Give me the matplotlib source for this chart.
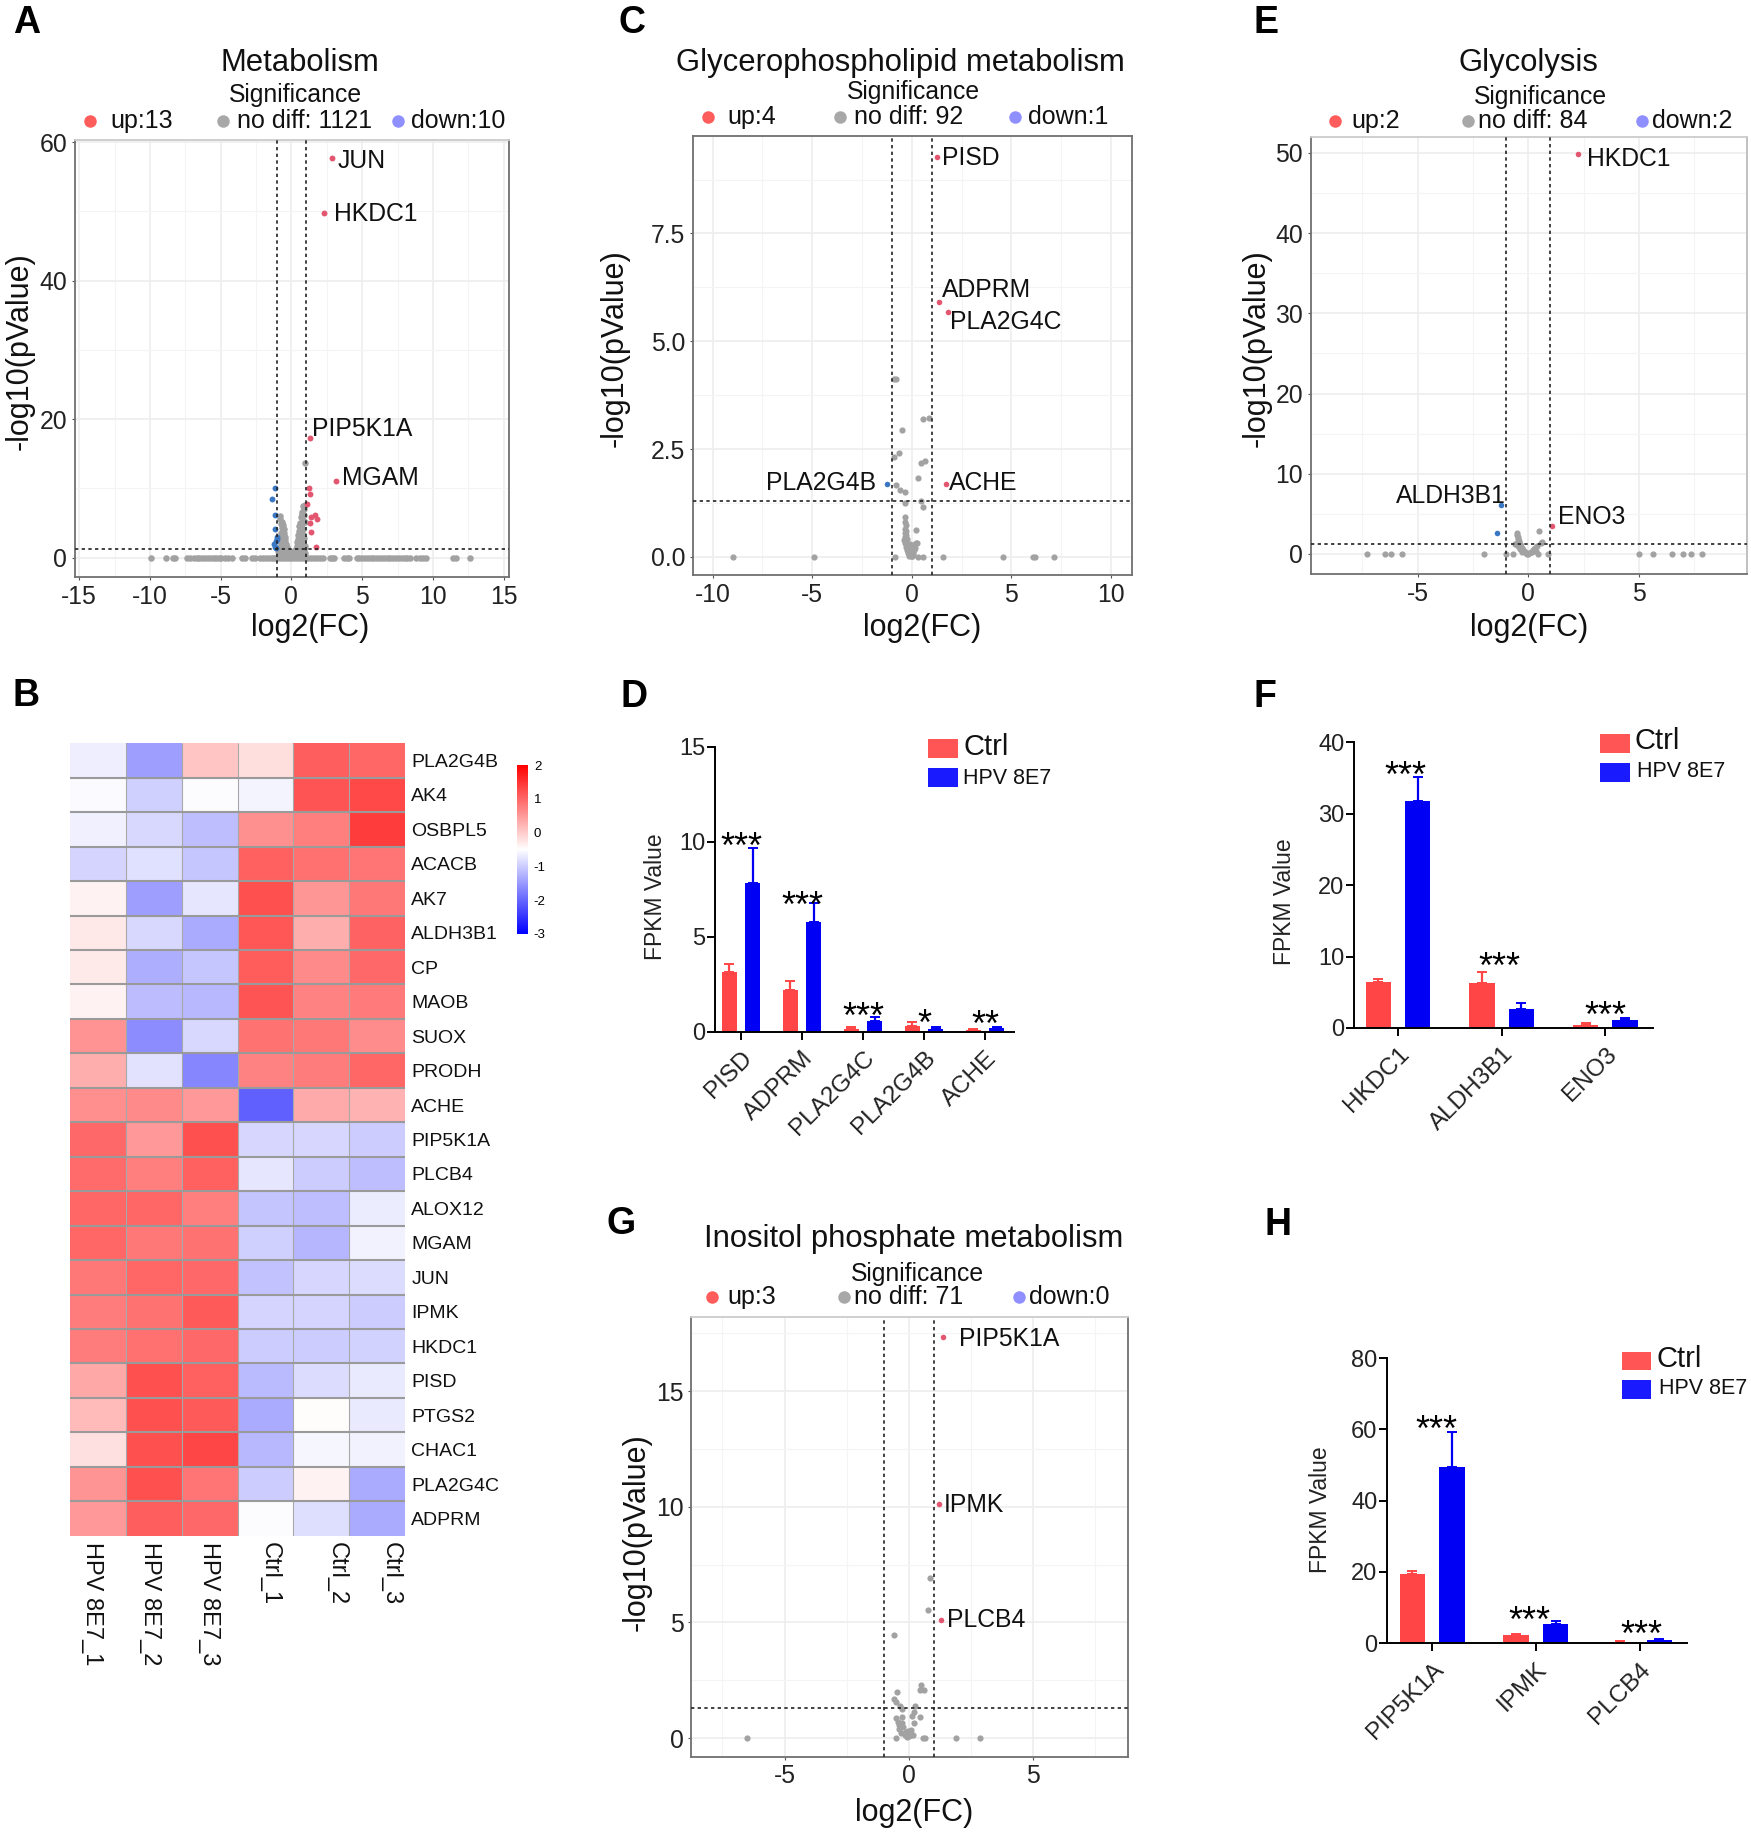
import matplotlib
matplotlib.use("Agg")
import matplotlib.pyplot as plt
import numpy as np
from matplotlib.colors import LinearSegmentedColormap
from matplotlib.lines import Line2D
from matplotlib.patches import Rectangle

W, H = 1751, 1832
plt.rcParams['font.family'] = ['Liberation Sans', 'DejaVu Sans']
plt.rcParams['axes.unicode_minus'] = False

# volcano data, panel A
a_up_x = [2.88, 2.27, 1.34, 3.16, 1.21, 1.31, 1.09, 1.64, 1.36, 1.82, 1.29, 1.41, 1.74]
a_up_y = [57.7, 49.8, 17.3, 11.1, 10.0, 9.2, 7.7, 6.1, 5.9, 5.6, 5.0, 3.65, 1.56]
a_down_x = [-1.19, -1.39, -1.19, -1.14, -1.04, -1.11, -1.21, -1.03, -1.16, -1.09]
a_down_y = [10.0, 8.5, 6.1, 4.1, 2.7, 2.4, 2.0, 3.0, 1.6, 1.4]
a_gray = [(0.98, 13.7),
    (-.83, 6.0), (-.78, 5.6), (-.66, 5.2), (-.72, 4.9), (-.6, 4.7), (-.68, 4.3), (-.55, 4.2), (-.62, 3.9),
    (-.72, 3.6), (-.5, 3.6), (-.58, 3.3), (-.68, 3.1), (-.47, 3.0), (-.55, 2.8), (-.65, 2.6), (-.8, 2.5),
    (-.42, 2.5), (-.52, 2.3), (-.62, 2.1), (-.75, 2.0), (-.38, 2.0), (-.47, 1.8), (-.58, 1.7), (-.7, 1.5),
    (-.85, 1.4), (-.33, 1.5), (-.42, 1.3), (-.52, 1.2), (-.64, 1.1), (-.78, 1.0), (-.92, .9), (-.28, 1.0),
    (-.37, .9), (-.47, .8), (-.58, .7), (-.7, .6), (-.84, .5), (-.2, .6), (-.3, .5), (-.4, .4), (-.52, .35),
    (-.65, .3), (-.8, .25), (-.95, .3),
    (.98, 7.6), (.81, 7.5), (.88, 7.0), (.76, 6.6), (.73, 6.3), (.92, 6.1), (.68, 5.8), (.81, 5.4), (.95, 5.2),
    (.62, 5.0), (.74, 4.8), (.56, 4.5), (.68, 4.3), (.84, 4.1), (.52, 3.9), (.63, 3.7), (.78, 3.5), (.48, 3.3),
    (.58, 3.1), (.72, 3.0), (.9, 2.9), (.44, 2.7), (.55, 2.5), (.68, 2.4), (.84, 2.3), (.4, 2.2), (.5, 2.0),
    (.62, 1.9), (.78, 1.8), (.95, 1.7), (.36, 1.7), (.46, 1.5), (.58, 1.4), (.72, 1.3), (.88, 1.2), (.32, 1.2),
    (.42, 1.0), (.54, .9), (.68, .8), (.82, .7), (.97, .6), (.24, .7), (.34, .55), (.46, .45), (.6, .35),
    (.75, .3), (.9, .25),
    (-.15, .3), (-.1, .15), (-.05, .1), (0, .05), (.05, .1), (.1, .15), (.15, .3),
    (-.25, 1.1), (-.15, .9), (-.05, .8), (.05, .8), (.15, .9), (.25, 1.1), (-.1, .5), (0, .4), (.1, .5)]
a_base_x = [-9.9, -8.9, -8.4, -8.2, -7.4, -7.2, -6.9, -6.7, -6.5, -6.3, -6.1, -5.9, -5.7, -5.5, -5.3, -5.1, -5.0,
    -4.7, -4.5, -4.2, -3.5, -3.3, -2.8, -2.6, -2.2, -2.0, -1.8, -1.6, -1.4, -1.2, -1.0, -.8, -.6, -.4, -.2, 0,
    .2, .4, .6, .8, 1.0, 1.2, 1.4, 1.6, 1.8, 2.0, 2.2, 2.7, 2.9, 3.0, 3.7, 3.9, 4.1, 4.6, 4.8, 5.0, 5.2, 5.4, 5.6,
    5.8, 6.0, 6.2, 6.4, 6.6, 6.8, 7.0, 7.2, 7.4, 7.6, 7.8, 8.0, 8.2, 8.4, 8.8, 9.1, 9.3, 9.5, 11.4, 11.6, 12.6]

# panel C
c_up_x = [1.29, 1.38, 1.83, 1.74]
c_up_y = [9.28, 5.92, 5.69, 1.68]
c_down_x = [-1.22]
c_down_y = [1.69]
c_gray = [(-.91, 4.12), (-.77, 4.12), (.88, 3.23), (.57, 3.19), (-.48, 2.94), (-.65, 2.4), (-.88, 2.32), (.68, 2.23),
    (.45, 2.17), (.29, 1.83), (-.81, 1.66), (-.59, 1.55), (-.34, 1.5), (-.36, 1.24), (.48, 1.29), (.56, 1.15),
    (-.34, .92), (.23, .63), (-.33, .8), (-.3, .75), (-.35, .65), (-.3, .6), (-.36, .55), (-.28, .5), (-.33, .45),
    (-.38, .4), (-.25, .42), (-.3, .35), (-.24, .3), (-.35, .32), (-.2, .28), (-.27, .22), (-.17, .2), (-.22, .15),
    (-.14, .13), (-.18, .08), (-.1, .06), (-.12, .02), (-.05, .02), (0, .01), (.03, .03), (.08, .1), (.12, .15),
    (.18, .2), (.1, .25), (.15, .3), (.22, .33), (.28, .33), (.05, .05), (.02, .15), (-.03, .1), (-.06, .2),
    (-.1, .3), (.03, .25)]
c_base_x = [-8.97, -4.9, -.86, .3, .57, 1.56, 4.57, 6.08, 6.19, 7.12]

# panel E
e_up_x = [2.24, 1.08]
e_up_y = [49.8, 3.53]
e_down_x = [-1.24, -1.41]
e_down_y = [6.08, 2.55]
e_gray = [(.49, 2.86), (-.51, 2.6), (-.5, 2.4), (-.47, 2.1), (-.45, 1.9), (-.42, 1.6), (-.48, 1.5), (-.4, 1.3),
    (-.38, 1.1), (-.45, 1.0), (-.33, .9), (-.3, .7), (-.36, .6), (-.25, .5), (-.2, .4), (-.28, .3), (-.15, .2),
    (-.1, .15), (-.05, .05), (0, .02), (.05, .1), (.1, .2), (.15, .3), (.2, .5), (.25, .6), (.3, .8), (.4, 1.0),
    (.55, 1.4), (.6, 1.5), (.33, .4), (.45, .05), (-.6, 1.2), (-.55, 1.25)]
e_base_x = [-7.3, -6.49, -6.19, -5.73, -2.02, -1.03, -.71, .9, 5.02, 5.63, 6.48, 7.0, 7.35, 7.87]

# panel G
g_up_x = [1.36, 1.21, 1.31]
g_up_y = [17.34, 10.12, 5.09]
g_down_x = []
g_down_y = []
g_gray = [(.86, 6.92), (.76, 5.55), (-.59, 4.47), (.5, 2.3), (.46, 2.06), (.62, 2.06), (-.49, 2.0), (-.59, 1.69),
    (-.5, 1.55), (-.36, 1.4), (-.29, 1.27), (.26, 1.4), (.22, 1.13), (.14, .96), (.46, .92), (-.5, .87), (-.29, .9),
    (-.42, .7), (-.29, .65), (.19, .66), (-.39, .38), (-.22, .49), (-.1, .26), (.1, .35), (0, .09), (-.07, .04),
    (.07, .12), (-.4, .55), (-.33, .2), (-.15, .15), (.05, .2), (.15, .15), (-.05, .3)]
g_base_x = [-6.5, -.53, .57, .65, 1.9, 2.87]

# heatmap
genes = ["PLA2G4B", "AK4", "OSBPL5", "ACACB", "AK7", "ALDH3B1", "CP", "MAOB", "SUOX", "PRODH", "ACHE", "PIP5K1A",
         "PLCB4", "ALOX12", "MGAM", "JUN", "IPMK", "HKDC1", "PISD", "PTGS2", "CHAC1", "PLA2G4C", "ADPRM"]
samples = ["HPV 8E7_1", "HPV 8E7_2", "HPV 8E7_3", "Ctrl_1", "Ctrl_2", "Ctrl_3"]
heat = [
    [-.67, -1.45, .07, -.17, 1.07, 1.0],
    [-.55, -.95, -.53, -.6, 1.17, 1.28],
    [-.65, -.88, -1.13, .58, .75, 1.4],
    [-.92, -.8, -1.05, 1.05, .9, .85],
    [-.38, -1.45, -.75, 1.2, .53, .82],
    [-.27, -.88, -1.33, 1.15, .3, 1.03],
    [-.3, -1.3, -1.05, 1.1, .65, .97],
    [-.38, -1.15, -1.2, 1.17, .72, .8],
    [.57, -1.62, -.88, .88, .82, .62],
    [.3, -.78, -1.68, .72, .78, 1.0],
    [.6, .65, .5, -2.05, .33, .25],
    [.97, .5, 1.2, -.9, -.9, -1.0],
    [.95, .75, 1.05, -.75, -1.0, -1.13],
    [1.0, 1.0, .75, -1.08, -1.13, -.68],
    [1.0, .82, .88, -.95, -1.22, -.62],
    [.82, 1.0, .98, -1.1, -.9, -.84],
    [.78, .88, 1.12, -.92, -.92, -1.0],
    [.78, .9, .98, -1.0, -1.0, -.93],
    [.35, 1.2, 1.05, -1.17, -.84, -.7],
    [.17, 1.2, 1.12, -1.33, -.48, -.7],
    [-.2, 1.2, 1.3, -1.2, -.58, -.63],
    [.55, 1.2, .85, -1.0, -.38, -1.33],
    [.5, 1.07, .97, -.52, -.83, -1.33]]

# bar panels
d_genes = ["PISD", "ADPRM", "PLA2G4C", "PLA2G4B", "ACHE"]
d_ctrl = [3.16, 2.2, .14, .3, .09]
d_ctrl_top = [3.54, 2.68, .23, .49, .12]
d_hpv = [7.84, 5.79, .58, .14, .21]
d_hpv_top = [9.68, 6.8, .79, .23, .26]
d_stars = ["***", "***", "***", "*", "**"]
d_star_y = [10.2, 7.1, 1.26, .9, .82]

f_genes = ["HKDC1", "ALDH3B1", "ENO3"]
f_ctrl = [6.49, 6.26, .47]
f_ctrl_top = [6.82, 7.84, .75]
f_hpv = [31.75, 2.66, 1.17]
f_hpv_top = [35.1, 3.55, 1.45]
f_stars = ["***", "***", "***"]
f_star_y = [36.6, 9.76, 2.99]

h_genes = ["PIP5K1A", "IPMK", "PLCB4"]
h_ctrl = [19.4, 2.25, .37]
h_ctrl_top = [20.3, 2.5, .65]
h_hpv = [49.5, 5.24, .84]
h_hpv_top = [59.2, 6.17, 1.1]
h_stars = ["***", "***", "***"]
h_star_y = [62.3, 8.8, 4.9]

RED = "#ff4545"
BLUE = "#0000f5"
UP = "#e2566f"
DOWN = "#3a78c4"
GRAY = "#a2a2a2"

fig = plt.figure(figsize=(W / 100, H / 100), dpi=100)


def ax_px(l, t, r, b):
    return fig.add_axes([l / W, 1 - b / H, (r - l) / W, (b - t) / H])


def txt(x, y, s, **kw):
    kw.setdefault("ha", "left")
    kw.setdefault("va", "center")
    return fig.text(x / W, 1 - y / H, s, **kw)


def dot(x, y, color):
    fig.add_artist(Line2D([x / W], [1 - y / H], transform=fig.transFigure, marker="o", ms=9, mew=0,
                          color=color, ls=""))


def box(l, t, r, b, color):
    fig.add_artist(Rectangle((l / W, 1 - b / H), (r - l) / W, (b - t) / H, transform=fig.transFigure,
                             color=color, lw=0))


def volcano(rect, xlim, ylim, xticks, yticks, xminor, yminor, up, down, gray, base, labels, ylabels=None, size=20):
    ax = ax_px(*rect)
    ax.set_xlim(*xlim)
    ax.set_ylim(*ylim)
    ax.set_xticks(xticks)
    ax.set_yticks(yticks)
    if ylabels:
        ax.set_yticklabels(ylabels)
    ax.set_xticks(xminor, minor=True)
    ax.set_yticks(yminor, minor=True)
    ax.grid(True, which="major", color="#eeeeee", lw=1.2)
    ax.grid(True, which="minor", color="#f4f4f4", lw=0.8)
    ax.set_axisbelow(True)
    ax.tick_params(which="minor", length=0)
    ax.tick_params(which="major", labelsize=17.8, length=2.5, width=0.8, color="#555555", pad=3,
                   labelcolor="#222222")
    for s in ax.spines.values():
        s.set_color("#707070")
        s.set_linewidth(1.3)

    ax.scatter([p[0] for p in gray], [p[1] for p in gray], s=size, color=GRAY, lw=0, zorder=2)
    ax.scatter(base, [0] * len(base), s=size, color=GRAY, lw=0, zorder=2)
    ax.scatter(up[0], up[1], s=size - 4, color=UP, lw=0, zorder=3)
    if len(down[0]):
        ax.scatter(down[0], down[1], s=size - 4, color=DOWN, lw=0, zorder=3)

    for x in (-1, 1):
        ax.axvline(x, color="#222222", lw=1.2, dashes=(2, 2), zorder=4)
    ax.axhline(1.3, color="#222222", lw=1.2, dashes=(2, 2), zorder=4)

    for name, px, py, dx, dy, ha in labels:
        ax.annotate(name, (px, py), xytext=(dx, dy), textcoords="offset pixels", ha=ha, va="center",
                    fontsize=17.8, color="#111111", zorder=5)
    return ax


def volcano_text(title, title_xy, sig_xy, row_y, up, no, down):
    txt(title_xy[0], title_xy[1], title, ha="center", fontsize=22.3, color="#111111")
    txt(sig_xy[0], sig_xy[1], "Significance", ha="center", fontsize=17.8, color="#111111")
    for (dx, tx, s), c in zip((up, no, down), ("#ff5c5c", "#a8a8a8", "#8f8fff")):
        dot(dx, row_y, c)
        txt(tx, row_y, s, fontsize=18, color="#111111")


def axis_labels(xpos, ypos):
    txt(xpos[0], xpos[1], "log2(FC)", ha="center", fontsize=22, color="#111111")
    txt(ypos[0], ypos[1], "-log10(pValue)", ha="center", rotation=90, fontsize=22, color="#111111")


def bars(rect, xlim, ymax, yticks, names, ctrl, ctrl_top, hpv, hpv_top, stars, star_y, star_dx,
         legend, ylab_xy):
    ax = ax_px(*rect)
    x = np.arange(len(names))
    width = 0.245
    off = 0.19
    ax.bar(x - off, ctrl, width, color=RED)
    ax.bar(x + off, hpv, width, color=BLUE)
    ax.errorbar(x - off, ctrl, yerr=[[0] * len(ctrl), np.array(ctrl_top) - np.array(ctrl)], fmt="none",
                ecolor=RED, elinewidth=1.6, capsize=3.5, capthick=1.4)
    ax.errorbar(x + off, hpv, yerr=[[0] * len(hpv), np.array(hpv_top) - np.array(hpv)], fmt="none",
                ecolor=BLUE, elinewidth=1.6, capsize=3.5, capthick=1.4)
    ax.set_xlim(*xlim)
    ax.set_ylim(0, ymax)
    ax.set_yticks(yticks)
    ax.set_xticks(x)
    ax.set_xticklabels(names, rotation=45, ha="right", rotation_mode="anchor", fontsize=17.5, color="#222222")
    ax.tick_params(axis="y", labelsize=17, length=6, width=1.4, pad=1, labelcolor="#222222")
    ax.tick_params(axis="x", length=6, width=1.4, pad=5)
    for s in ("top", "right"):
        ax.spines[s].set_visible(False)
    for s in ("left", "bottom"):
        ax.spines[s].set_linewidth(1.4)
    for i, (s, y, dx) in enumerate(zip(stars, star_y, star_dx)):
        ax.annotate(s, (i, y), xytext=(dx, -20), textcoords="offset pixels", ha="center", va="baseline",
                    fontsize=26, annotation_clip=False)
    (rx0, rx1, ry0, ry1, by0, by1, ctrl_tx, ctrl_ty, hpv_tx, hpv_ty) = legend
    box(rx0, ry0, rx1, ry1, "#ff5555")
    box(rx0, by0, rx1, by1, "#1a1aff")
    txt(ctrl_tx, ctrl_ty, "Ctrl", fontsize=21, color="#111111")
    txt(hpv_tx, hpv_ty, "HPV 8E7", fontsize=15.5, color="#111111")
    txt(ylab_xy[0], ylab_xy[1], "FPKM Value", ha="center", rotation=90, fontsize=16.5, color="#222222")
    return ax


# panel A
ax_a = volcano((75, 139.5, 509, 577), (-15.3, 15.38), (-2.8, 60.4), [-15, -10, -5, 0, 5, 10, 15], [0, 20, 40, 60],
        [-12.5, -7.5, -2.5, 2.5, 7.5, 12.5], [10, 30, 50], (a_up_x, a_up_y), (a_down_x, a_down_y), a_gray, a_base_x,
        [("JUN", a_up_x[0], a_up_y[0], 5, -3, "left"), ("HKDC1", a_up_x[1], a_up_y[1], 10, -1, "left"),
         ("PIP5K1A", a_up_x[2], a_up_y[2], 2, 9, "left"), ("MGAM", a_up_x[3], a_up_y[3], 6, 3, "left")], size=22)
ax_a.spines["top"].set_color("#cccccc")
volcano_text("Metabolism", (300, 63), (295.7, 95.4), 120.6, (90.3, 110, "up:13"), (222.5, 236.5, "no diff: 1121"),
             (397.5, 410.7, "down:10"))
axis_labels((310, 628), (20, 351))

# panel C
volcano((693, 136, 1131.5, 575), (-10.98, 11.03), (-0.42, 9.76), [-10, -5, 0, 5, 10], [0, 2.5, 5, 7.5],
        [-7.5, -2.5, 2.5, 7.5], [1.25, 3.75, 6.25, 8.75], (c_up_x, c_up_y), (c_down_x, c_down_y), c_gray, c_base_x,
        [("PISD", c_up_x[0], c_up_y[0], 5, -1, "left"), ("ADPRM", c_up_x[1], c_up_y[1], 3, 12, "left"),
         ("PLA2G4C", c_up_x[2], c_up_y[2], 2, -10, "left"), ("ACHE", c_up_x[3], c_up_y[3], 3, 1, "left"),
         ("PLA2G4B", c_down_x[0], c_down_y[0], -11, 1, "right")],
        ylabels=["0.0", "2.5", "5.0", "7.5"])
volcano_text("Glycerophospholipid metabolism", (900.5, 63), (913.4, 92), 117, (707.5, 727.5, "up:4"),
             (840, 853.6, "no diff: 92"), (1015, 1027.5, "down:1"))
axis_labels((922, 628), (615, 348))

# panel E
ax_e = volcano((1310.7, 136.8, 1746.7, 574), (-9.84, 9.87), (-2.5, 52), [-5, 0, 5], [0, 10, 20, 30, 40, 50],
        [-7.5, -2.5, 2.5, 7.5], [5, 15, 25, 35, 45], (e_up_x, e_up_y), (e_down_x, e_down_y), e_gray, e_base_x,
        [("HKDC1", e_up_x[0], e_up_y[0], 9, -5, "left"), ("ENO3", e_up_x[1], e_up_y[1], 6, 9, "left"),
         ("ALDH3B1", e_down_x[0], e_down_y[0], 5, 9, "right")])
ax_e.spines["top"].set_color("#cccccc")
ax_e.spines["right"].set_color("#bbbbbb")
volcano_text("Glycolysis", (1528.5, 63), (1540.8, 97.4), 120.6, (1334.9, 1351, "up:2"), (1467.7, 1477.6, "no diff: 84"),
             (1642.4, 1651.9, "down:2"))
axis_labels((1529.6, 628), (1257, 348))

# panel G
ax_g = volcano((691.4, 1317.3, 1128.2, 1756.6), (-8.75, 8.82), (-0.8, 18.2), [-5, 0, 5], [0, 5, 10, 15],
        [-7.5, -2.5, 2.5, 7.5], [2.5, 7.5, 12.5, 17.5], (g_up_x, g_up_y), (g_down_x, g_down_y), g_gray, g_base_x,
        [("PIP5K1A", g_up_x[0], g_up_y[0], 16, -2, "left"), ("IPMK", g_up_x[1], g_up_y[1], 5, -1, "left"),
         ("PLCB4", g_up_x[2], g_up_y[2], 6, 0, "left")])
ax_g.spines["top"].set_color("#cccccc")
volcano_text("Inositol phosphate metabolism", (913.8, 1238.5), (917.5, 1273.8), 1296.7, (711.8, 727.5, "up:3"),
             (843.9, 853.6, "no diff: 71"), (1018.6, 1029.3, "down:0"))
axis_labels((914.3, 1813), (636.8, 1532.5))

# panel B heatmap
hm_cmap = LinearSegmentedColormap.from_list("bwr2", ["#0000ff", "#ffffff", "#ff0000"])
ax = ax_px(70, 743.3, 405, 1535.7)
mesh = ax.pcolormesh(np.array(heat)[::-1], cmap=hm_cmap, vmin=-3, vmax=2, edgecolors="none")
ax.vlines(range(1, 6), 0, len(genes), color="#a8a8a8", lw=0.8)
ax.hlines(range(1, len(genes)), 0, 6, color="#9a9a9a", lw=1.5)
ax.set_xticks([])
ax.set_yticks(np.arange(len(genes)) + 0.5)
ax.set_yticklabels(genes[::-1], fontsize=14, color="#111111")
ax.yaxis.tick_right()
ax.tick_params(axis="y", length=0, pad=4.5)
for s in ax.spines.values():
    s.set_visible(False)
for name, x in zip(samples, (91.8, 149.8, 209, 270, 336.7, 390.3)):
    txt(x, 1541.9, name, ha="center", va="top", rotation=270, fontsize=17, color="#111111")

cax = ax_px(516.8, 765, 528.3, 934)
cb = fig.colorbar(mesh, cax=cax)
cb.set_ticks([2, 1, 0, -1, -2, -3])
cb.set_ticklabels(["2", "1", "0", "-1", "-2", "-3"])
cb.outline.set_visible(False)
cb.ax.tick_params(length=0, pad=4, labelsize=9.5)

# bar panels
bars((715, 746.7, 1014, 1031.7), (-0.426, 4.475), 15, [0, 5, 10, 15], d_genes, d_ctrl, d_ctrl_top, d_hpv, d_hpv_top,
     d_stars, d_star_y, [0, 0, 0, 0, 0], (928, 958, 739, 758, 768, 787, 963, 747, 963, 778), (655, 897))
bars((1354, 742.3, 1652.7, 1028), (-0.424, 2.455), 40, [0, 10, 20, 30, 40], f_genes, f_ctrl, f_ctrl_top, f_hpv,
     f_hpv_top, f_stars, f_star_y, [7, -2, 0], (1600, 1630, 734, 752.7, 762.7, 781.7, 1634, 741, 1637, 771.7),
     (1284, 902))
bars((1387, 1358, 1686.7, 1643), (-0.435, 2.455), 80, [0, 20, 40, 60, 80], h_genes, h_ctrl, h_ctrl_top, h_hpv,
     h_hpv_top, h_stars, h_star_y, [4, -6, 2], (1621.7, 1651, 1351.7, 1370, 1380, 1399.3, 1656, 1359, 1659, 1389),
     (1320, 1510))

# panel letters
for letter, x, y in [("A", 13, 33), ("B", 12, 706), ("C", 618.6, 33), ("D", 620, 707), ("E", 1253.4, 33),
                     ("F", 1253, 707), ("G", 607, 1234), ("H", 1264, 1235)]:
    txt(x, y, letter, va="baseline", fontsize=27, fontweight="bold", color="black")

fig.savefig("out.png", dpi=100, facecolor="white")
